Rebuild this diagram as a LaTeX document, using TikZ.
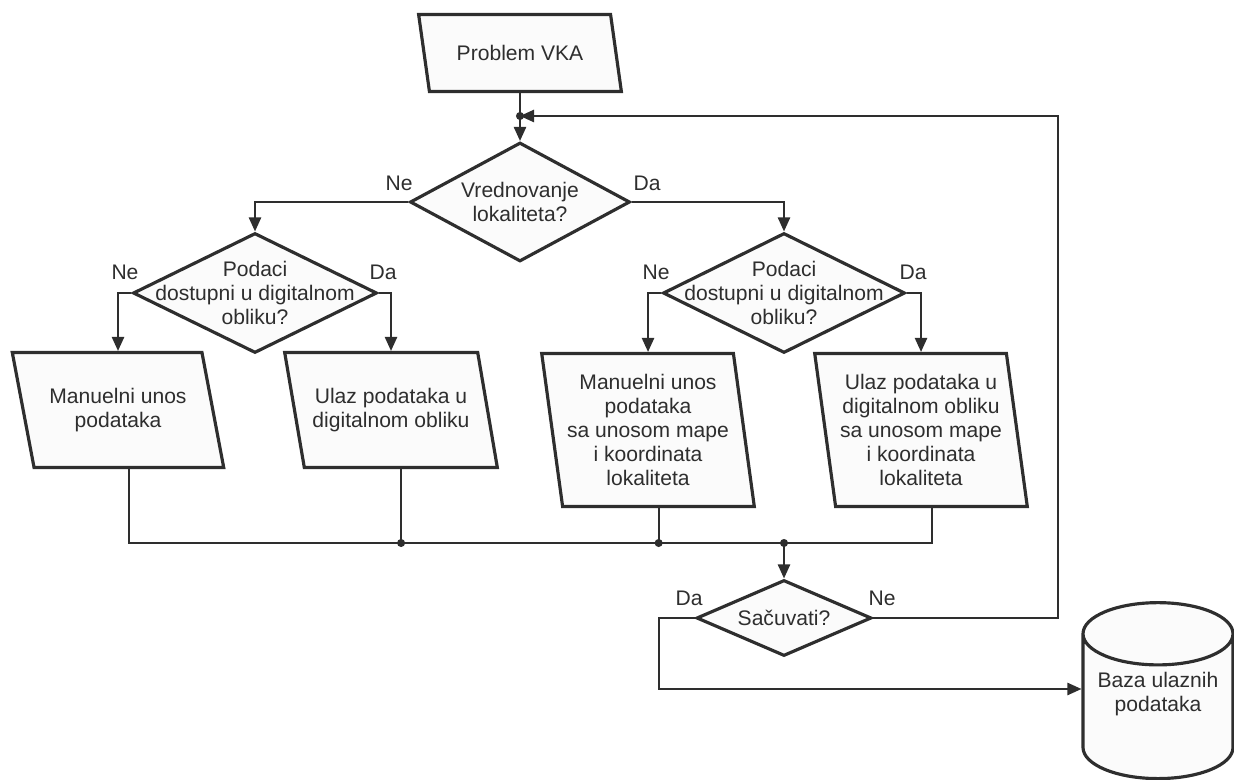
\documentclass[tikz,border=0pt]{standalone}
\usepackage{fontspec}
\setmainfont{Liberation Sans}
\usetikzlibrary{shapes.geometric,arrows.meta,calc}

\definecolor{ink}{HTML}{2E2E2E}
\definecolor{paper}{HTML}{FBFBFB}

\begin{document}
\begin{tikzpicture}[x=0.02cm, y=-0.02cm,
        font=\fontsize{12}{13.6}\selectfont, text=ink,
        io/.style={trapezium, trapezium stretches=true, draw=ink, fill=paper,
            line width=1.8pt, align=center, inner sep=0pt, minimum width=4.26cm},
        decision/.style={diamond, draw=ink, fill=paper, line width=1.8pt, inner sep=0pt},
        line/.style={draw=ink, line width=1pt},
        arr/.style={line, -{Triangle[length=8pt,width=7pt]}}]
        \useasboundingbox (0,0) rectangle (1234,780);

        % shapes
        \node[io, trapezium left angle=116, trapezium right angle=64,
            minimum width=4.06cm, minimum height=1.54cm] (prob) at (520,53) {Problem VKA};
        \node[decision, minimum width=4.4cm, minimum height=2.38cm,
            label={[align=center]center:Vrednovanje\\lokaliteta?}] (d1) at (520,202) {};
        \node[decision, minimum width=4.88cm, minimum height=2.4cm,
            label={[align=center]center:Podaci\\dostupni u digitalnom\\obliku?}] (d2) at (255,293) {};
        \node[decision, minimum width=4.84cm, minimum height=2.4cm,
            label={[align=center]center:Podaci\\dostupni u digitalnom\\obliku?}] (d3) at (784,293) {};

        \node[io, trapezium left angle=112.2, trapezium right angle=67.8,
            minimum height=2.3cm] (L1) at (118,410) {Manuelni unos\\podataka};
        \node[io, trapezium left angle=112.2, trapezium right angle=67.8,
            minimum height=2.3cm] (L2) at (391,410) {Ulaz podataka u\\digitalnom obliku};
        \node[io, trapezium left angle=100.1, trapezium right angle=79.9,
            minimum height=3.06cm] (R1) at (648,430) {Manuelni unos\\podataka\\sa unosom mape\\i koordinata\\lokaliteta};
        \node[io, trapezium left angle=100.1, trapezium right angle=79.9,
            minimum height=3.06cm] (R2) at (921,430) {Ulaz podataka u\\digitalnom obliku\\sa unosom mape\\i koordinata\\lokaliteta};

        \node[decision, minimum width=3.5cm, minimum height=1.52cm,
            label={center:Sačuvati?}] (d4) at (784,618) {};
        \node[cylinder, shape border rotate=90, aspect=0.47, draw=ink, fill=paper,
            line width=1.8pt, align=center, text depth=24pt,
            minimum width=3cm, minimum height=3.46cm] (db) at (1158,713) {Baza ulaznih\\podataka};

        % labels
        \node (ne1) at (399,183) {Ne};
        \node (da1) at (647,183) {Da};
        \node (ne2) at (125,272) {Ne};
        \node (da2) at (383,272) {Da};
        \node (ne3) at (656,272) {Ne};
        \node (da3) at (913,272) {Da};
        \node (da4) at (689,598) {Da};
        \node (ne4) at (882,598) {Ne};

        % connectors
        \coordinate (j1) at (520,116);
        \coordinate (bus) at (784,543);
        \coordinate (back) at (1058,116);
        \coordinate (keep) at (659,689);
        \coordinate (L1b) at ($(L1.bottom left corner)!0.5!(L1.bottom right corner)$);
        \coordinate (L2b) at ($(L2.bottom left corner)!0.5!(L2.bottom right corner)$);
        \coordinate (R1b) at ($(R1.bottom left corner)!0.5!(R1.bottom right corner)$);
        \coordinate (R2b) at ($(R2.bottom left corner)!0.5!(R2.bottom right corner)$);

        \draw[line] (prob.south) -- (j1);
        \draw[arr] (j1) -- (d1.north);
        \draw[arr] (d1.west) -| (d2.north);
        \draw[arr] (d1.east) -| (d3.north);
        \draw[arr] (d2.west) -| (L1.north);
        \draw[arr] (d2.east) -| (L2.north);
        \draw[arr] (d3.west) -| (R1.north);
        \draw[arr] (d3.east) -| (R2.north);
        \draw[line] (L1b) |- (bus) -| (R2b);
        \draw[line] (L2b) -- (L2b |- bus);
        \draw[line] (R1b) -- (R1b |- bus);
        \draw[arr] (bus) -- (d4.north);
        \draw[arr] (d4.east) -| (back) -- (j1);
        \draw[arr] (d4.west) -| (keep) -- (keep -| db.west);

        \fill[ink] (j1) circle (2.3pt);
        \fill[ink] (L2b |- bus) circle (2.3pt);
        \fill[ink] (R1b |- bus) circle (2.3pt);
        \fill[ink] (bus) circle (2.3pt);
\end{tikzpicture}
\end{document}
